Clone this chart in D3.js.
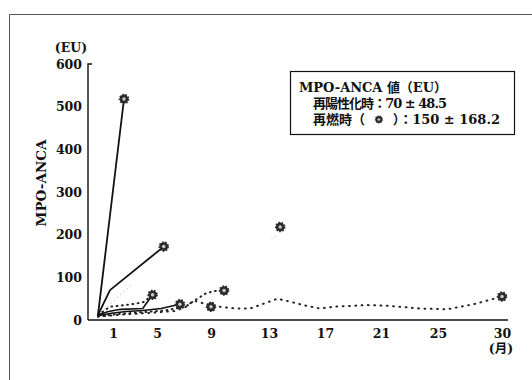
<!DOCTYPE html>
<html>
<head>
<meta charset="utf-8">
<script src="https://cdn.jsdelivr.net/npm/d3@7"></script>
<style>
  body { margin: 0; background: #fff; }
  text { font-family: "DejaVu Serif", "Noto Sans CJK JP", serif; font-weight: bold; fill: #111; }
</style>
</head>
<body>
<script>
// tick labels
var monthTicks = [1, 5, 9, 13, 17, 21, 25, 30];
var valueTicks = [0, 100, 200, 300, 400, 500, 600];

// each patient: [month, MPO-ANCA (EU)]
var solidA = [[0, 12], [2, 518]];
var solidB = [[0, 12], [0.8, 70], [5.5, 172]];
var solidC = [[0, 12], [0.7, 20], [1.7, 25], [3.7, 27], [4.6, 59]];
var solidD = [[0, 10], [0.9, 16], [2.2, 20], [3.7, 22], [5.3, 27], [6.7, 37]];
var dottedA = [[0, 12], [0.8, 31], [2.1, 35], [3, 38], [3.8, 42], [4.6, 59]];
var dottedB = [[0, 8], [1.5, 14], [3.5, 18], [5.5, 22], [6.6, 28], [7.2, 33], [7.6, 42], [8.1, 52], [8.6, 62], [9.2, 68], [9.9, 69]];
var dottedC = [[0, 8], [2, 13], [4.5, 17], [6.3, 21], [7.1, 30], [7.7, 45], [8.2, 42], [8.6, 36], [9, 31],
    [9.6, 31], [10.7, 27], [11.7, 27], [12.7, 39], [13.6, 50], [14.5, 43], [15.7, 33], [16.6, 27], [17.6, 31],
    [20, 35], [21.6, 33], [23.7, 27], [25.7, 25], [27.8, 37], [30, 55]];
// faint line to the 14-month relapse, only its ends survive in the scan
var faintStart = [[0, 12], [1.5, 55], [2.6, 80]];
var faintEnd = [[13.2, 190], [13.5, 198]];

// relapse points (marked)
var relapses = [[2, 518], [5.5, 172], [4.6, 59], [6.7, 37], [9, 31], [9.9, 69], [13.8, 218], [30, 55]];

var w = 532;
var h = 380;

var svg = d3.select("body")
    .append("svg")
    .attr("width", w)
    .attr("height", h);

// page frame (scan edge)
svg.append("path")
    .attr("d", "M9.5,380V14.5H532")
    .attr("fill", "none")
    .attr("stroke", "#555")
    .attr("stroke-width", 1);

// scales: month axis is not evenly spaced in the original
var xScale = d3.scaleLinear()
    .domain([0, 1, 5, 9, 13, 17, 21, 25, 30])
    .range([98, 113, 157, 211, 269, 325, 381, 438, 502]);

var yScale = d3.scaleLinear()
    .domain([0, 600])
    .range([320, 64]);

var xAxis = d3.axisBottom(xScale)
    .tickValues(monthTicks)
    .tickSize(0)
    .tickPadding(9)
    .tickFormat(d3.format("d"));

var yAxis = d3.axisLeft(yScale)
    .tickValues(valueTicks)
    .tickSize(0)
    .tickPadding(6);

var gx = svg.append("g")
    .attr("transform", "translate(0,320)")
    .call(xAxis);
gx.select(".domain").attr("d", "M88,0H508").attr("stroke", "#111").attr("stroke-width", 1.6);
gx.selectAll("text").attr("font-size", 12.5).attr("fill", "#111");

var gy = svg.append("g")
    .attr("transform", "translate(88,0)")
    .call(yAxis);
gy.select(".domain").attr("d", "M4," + yScale(600) + "H0V320").attr("stroke", "#111").attr("stroke-width", 1.4);
gy.selectAll("text").attr("font-size", 12.5).attr("fill", "#111");

svg.append("text")
    .attr("x", 71)
    .attr("y", 52)
    .attr("text-anchor", "middle")
    .attr("font-size", 12.5)
    .text("(EU)");

svg.append("text")
    .attr("transform", "translate(46,183) rotate(-90)")
    .attr("text-anchor", "middle")
    .attr("font-size", 13.5)
    .text("MPO-ANCA");

svg.append("text")
    .attr("x", 501)
    .attr("y", 353)
    .attr("text-anchor", "middle")
    .attr("font-size", 12.5)
    .text("(月)");

var line = d3.line()
    .x(function (d) { return xScale(d[0]); })
    .y(function (d) { return yScale(d[1]); });

function drawLine(data, dash, width, color) {
    svg.append("path")
        .datum(data)
        .attr("fill", "none")
        .attr("stroke", color)
        .attr("stroke-width", width)
        .attr("stroke-linecap", "round")
        .attr("stroke-linejoin", "round")
        .attr("stroke-dasharray", dash)
        .attr("d", line);
}

drawLine(faintStart, "0.8 3.5", 1, "#c4c4c4");
drawLine(faintEnd, "0.8 3", 1, "#c4c4c4");
drawLine(dottedA, "0.8 4.5", 2, "#222");
drawLine(dottedB, "0.8 4.5", 2, "#222");
drawLine(dottedC, "0.8 5.5", 2, "#222");
drawLine(solidA, null, 1.8, "#111");
drawLine(solidB, null, 1.8, "#111");
drawLine(solidC, null, 1.6, "#111");
drawLine(solidD, null, 1.5, "#111");

function drawMarker(g, r) {
    g.append("circle")
        .attr("r", r)
        .attr("fill", "#2b2b2b")
        .attr("stroke", "#2b2b2b")
        .attr("stroke-width", r * 0.4)
        .attr("stroke-dasharray", (r * 0.35) + " " + (r * 0.35));
    g.append("circle")
        .attr("r", r * 0.4)
        .attr("fill", "#c8c8c8");
}

svg.selectAll("g.relapse")
    .data(relapses)
    .enter()
    .append("g")
    .attr("class", "relapse")
    .attr("transform", function (d) {
        return "translate(" + xScale(d[0]) + "," + yScale(d[1]) + ")";
    })
    .each(function () { drawMarker(d3.select(this), 4.4); });

// legend box
var legend = svg.append("g");
legend.append("rect")
    .attr("x", 290.5)
    .attr("y", 71.5)
    .attr("width", 224)
    .attr("height", 63)
    .attr("fill", "#fff")
    .attr("stroke", "#111")
    .attr("stroke-width", 1.2);

legend.append("text")
    .attr("x", 299)
    .attr("y", 92)
    .attr("font-size", 13)
    .attr("textLength", 148)
    .attr("lengthAdjust", "spacing")
    .text("MPO-ANCA 値（EU）");

legend.append("text")
    .attr("x", 313)
    .attr("y", 108)
    .attr("font-size", 13)
    .attr("textLength", 134)
    .attr("lengthAdjust", "spacing")
    .text("再陽性化時：70 ± 48.5");

var l3a = legend.append("text")
    .attr("x", 313)
    .attr("y", 124)
    .attr("font-size", 13)
    .text("再燃時（");
var l3b = legend.append("text")
    .attr("x", 500)
    .attr("y", 124)
    .attr("font-size", 13)
    .attr("text-anchor", "end")
    .text("）：150 ± 168.2");
var gapL = 313 + l3a.node().getComputedTextLength();
var gapR = 500 - l3b.node().getComputedTextLength();
var mk = legend.append("g")
    .attr("transform", "translate(" + ((gapL + gapR) / 2) + ",119.5)");
drawMarker(mk, 3.4);
</script>
</body>
</html>
